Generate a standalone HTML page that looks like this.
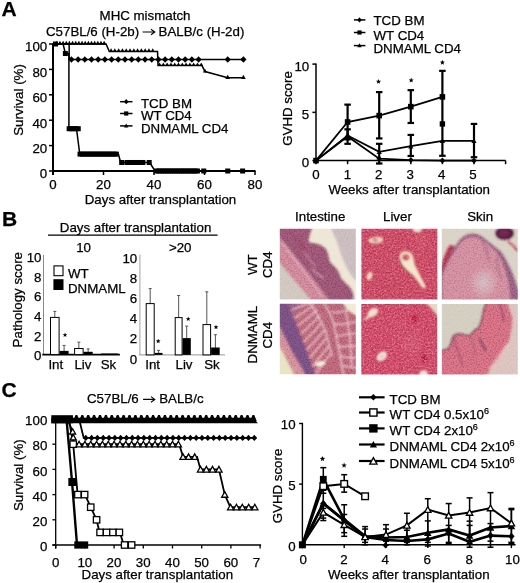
<!DOCTYPE html>
<html><head><meta charset="utf-8"><style>
html,body{margin:0;padding:0;background:#fff;overflow:hidden;}
svg{display:block;will-change:transform;}
text{font-family:"Liberation Sans", sans-serif;stroke:#000;stroke-width:0.25px;}
</style></head><body>
<svg width="520" height="583" viewBox="0 0 520 583">
<rect width="520" height="583" fill="#fff"/>
<text x="1.60" y="16.20" font-size="21" font-weight="bold" fill="#000">A</text>
<text x="145.00" y="20.00" font-size="13.3" text-anchor="middle" fill="#000">MHC mismatch</text>
<text x="46.00" y="36.00" font-size="13.3" fill="#000">C57BL/6 (H-2b)</text>
<path d="M142.6 32H154.6M151 29.2L154.8 32L151 34.8" fill="none" stroke="#000" stroke-width="1.1"/>
<text x="158.60" y="36.00" font-size="13.3" fill="#000">BALB/c (H-2d)</text>
<line x1="53.00" y1="43.20" x2="53.00" y2="175.00" stroke="#000" stroke-width="2" stroke-linecap="butt"/>
<line x1="52.00" y1="171.00" x2="255.50" y2="171.00" stroke="#000" stroke-width="2" stroke-linecap="butt"/>
<line x1="49.00" y1="171.00" x2="53.00" y2="171.00" stroke="#000" stroke-width="1.5" stroke-linecap="butt"/>
<text x="47.20" y="178.30" font-size="13.3" text-anchor="end" fill="#000">0</text>
<line x1="49.00" y1="145.60" x2="53.00" y2="145.60" stroke="#000" stroke-width="1.5" stroke-linecap="butt"/>
<text x="47.20" y="152.90" font-size="13.3" text-anchor="end" fill="#000">20</text>
<line x1="49.00" y1="120.20" x2="53.00" y2="120.20" stroke="#000" stroke-width="1.5" stroke-linecap="butt"/>
<text x="47.20" y="127.50" font-size="13.3" text-anchor="end" fill="#000">40</text>
<line x1="49.00" y1="94.80" x2="53.00" y2="94.80" stroke="#000" stroke-width="1.5" stroke-linecap="butt"/>
<text x="47.20" y="102.10" font-size="13.3" text-anchor="end" fill="#000">60</text>
<line x1="49.00" y1="69.40" x2="53.00" y2="69.40" stroke="#000" stroke-width="1.5" stroke-linecap="butt"/>
<text x="47.20" y="76.70" font-size="13.3" text-anchor="end" fill="#000">80</text>
<line x1="49.00" y1="44.00" x2="53.00" y2="44.00" stroke="#000" stroke-width="1.5" stroke-linecap="butt"/>
<text x="47.20" y="51.30" font-size="13.3" text-anchor="end" fill="#000">100</text>
<line x1="53.00" y1="171.00" x2="53.00" y2="175.00" stroke="#000" stroke-width="1.5" stroke-linecap="butt"/>
<text x="53.00" y="189.30" font-size="13.3" text-anchor="middle" fill="#000">0</text>
<line x1="103.50" y1="171.00" x2="103.50" y2="175.00" stroke="#000" stroke-width="1.5" stroke-linecap="butt"/>
<text x="103.50" y="189.30" font-size="13.3" text-anchor="middle" fill="#000">20</text>
<line x1="154.00" y1="171.00" x2="154.00" y2="175.00" stroke="#000" stroke-width="1.5" stroke-linecap="butt"/>
<text x="154.00" y="189.30" font-size="13.3" text-anchor="middle" fill="#000">40</text>
<line x1="204.50" y1="171.00" x2="204.50" y2="175.00" stroke="#000" stroke-width="1.5" stroke-linecap="butt"/>
<text x="204.50" y="189.30" font-size="13.3" text-anchor="middle" fill="#000">60</text>
<line x1="255.00" y1="171.00" x2="255.00" y2="175.00" stroke="#000" stroke-width="1.5" stroke-linecap="butt"/>
<text x="255.00" y="189.30" font-size="13.3" text-anchor="middle" fill="#000">80</text>
<text x="23.10" y="100.00" font-size="13.3" text-anchor="middle" transform="rotate(-90 23.1 100)" fill="#000">Survival (%)</text>
<text x="160.50" y="203.80" font-size="13.3" text-anchor="middle" fill="#000">Days after transplantation</text>
<polyline points="53.00,44.00 106.03,44.00 109.31,51.62 157.53,51.62 158.04,65.59 201.97,65.59 205.00,71.56 227.73,77.78 243.39,77.78" fill="none" stroke="#000" stroke-width="1.5" stroke-linejoin="miter"/>
<path d="M54.59 44.67L56.79 40.71L58.99 44.67Z" fill="#000"/>
<path d="M57.74 44.67L59.94 40.71L62.14 44.67Z" fill="#000"/>
<path d="M60.90 44.67L63.10 40.71L65.30 44.67Z" fill="#000"/>
<path d="M64.06 44.67L66.26 40.71L68.46 44.67Z" fill="#000"/>
<path d="M67.21 44.67L69.41 40.71L71.61 44.67Z" fill="#000"/>
<path d="M70.37 44.67L72.57 40.71L74.77 44.67Z" fill="#000"/>
<path d="M73.52 44.67L75.72 40.71L77.92 44.67Z" fill="#000"/>
<path d="M76.68 44.67L78.88 40.71L81.08 44.67Z" fill="#000"/>
<path d="M79.84 44.67L82.04 40.71L84.24 44.67Z" fill="#000"/>
<path d="M82.99 44.67L85.19 40.71L87.39 44.67Z" fill="#000"/>
<path d="M86.15 44.67L88.35 40.71L90.55 44.67Z" fill="#000"/>
<path d="M89.31 44.67L91.51 40.71L93.71 44.67Z" fill="#000"/>
<path d="M92.46 44.67L94.66 40.71L96.86 44.67Z" fill="#000"/>
<path d="M95.62 44.67L97.82 40.71L100.02 44.67Z" fill="#000"/>
<path d="M98.77 44.67L100.97 40.71L103.17 44.67Z" fill="#000"/>
<path d="M101.93 44.67L104.13 40.71L106.33 44.67Z" fill="#000"/>
<path d="M108.97 52.11L111.07 48.33L113.17 52.11Z" fill="#000"/>
<path d="M112.76 52.11L114.86 48.33L116.96 52.11Z" fill="#000"/>
<path d="M116.55 52.11L118.65 48.33L120.75 52.11Z" fill="#000"/>
<path d="M120.34 52.11L122.44 48.33L124.54 52.11Z" fill="#000"/>
<path d="M124.12 52.11L126.22 48.33L128.32 52.11Z" fill="#000"/>
<path d="M127.91 52.11L130.01 48.33L132.11 52.11Z" fill="#000"/>
<path d="M131.70 52.11L133.80 48.33L135.90 52.11Z" fill="#000"/>
<path d="M135.49 52.11L137.59 48.33L139.69 52.11Z" fill="#000"/>
<path d="M139.28 52.11L141.38 48.33L143.47 52.11Z" fill="#000"/>
<path d="M143.06 52.11L145.16 48.33L147.26 52.11Z" fill="#000"/>
<path d="M146.85 52.11L148.95 48.33L151.05 52.11Z" fill="#000"/>
<path d="M150.64 52.11L152.74 48.33L154.84 52.11Z" fill="#000"/>
<path d="M157.56 66.09L159.56 62.49L161.56 66.09Z" fill="#000"/>
<path d="M161.34 66.09L163.34 62.49L165.34 66.09Z" fill="#000"/>
<path d="M165.13 66.09L167.13 62.49L169.13 66.09Z" fill="#000"/>
<path d="M168.92 66.09L170.92 62.49L172.92 66.09Z" fill="#000"/>
<path d="M172.70 66.09L174.70 62.49L176.70 66.09Z" fill="#000"/>
<path d="M176.49 66.09L178.49 62.49L180.49 66.09Z" fill="#000"/>
<path d="M180.28 66.09L182.28 62.49L184.28 66.09Z" fill="#000"/>
<path d="M184.07 66.09L186.07 62.49L188.07 66.09Z" fill="#000"/>
<path d="M187.85 66.09L189.85 62.49L191.85 66.09Z" fill="#000"/>
<path d="M191.64 66.09L193.64 62.49L195.64 66.09Z" fill="#000"/>
<path d="M195.43 66.09L197.43 62.49L199.43 66.09Z" fill="#000"/>
<path d="M199.22 66.09L201.22 62.49L203.22 66.09Z" fill="#000"/>
<path d="M202.91 72.54L205.00 68.76L207.10 72.54Z" fill="#000"/>
<path d="M225.33 79.02L227.73 74.70L230.13 79.02Z" fill="#000"/>
<path d="M240.99 79.02L243.39 74.70L245.79 79.02Z" fill="#000"/>
<polyline points="53.00,44.00 69.16,44.00 69.16,59.49 243.39,59.49" fill="none" stroke="#000" stroke-width="1.5" stroke-linejoin="miter"/>
<path d="M68.33 59.49L71.43 56.19L74.53 59.49L71.43 62.79Z" fill="#000"/>
<path d="M75.02 59.49L78.12 56.19L81.22 59.49L78.12 62.79Z" fill="#000"/>
<path d="M81.72 59.49L84.81 56.19L87.91 59.49L84.81 62.79Z" fill="#000"/>
<path d="M88.41 59.49L91.51 56.19L94.61 59.49L91.51 62.79Z" fill="#000"/>
<path d="M95.10 59.49L98.20 56.19L101.30 59.49L98.20 62.79Z" fill="#000"/>
<path d="M101.79 59.49L104.89 56.19L107.99 59.49L104.89 62.79Z" fill="#000"/>
<path d="M108.48 59.49L111.58 56.19L114.68 59.49L111.58 62.79Z" fill="#000"/>
<path d="M115.17 59.49L118.27 56.19L121.37 59.49L118.27 62.79Z" fill="#000"/>
<path d="M121.86 59.49L124.96 56.19L128.06 59.49L124.96 62.79Z" fill="#000"/>
<path d="M128.55 59.49L131.65 56.19L134.75 59.49L131.65 62.79Z" fill="#000"/>
<path d="M135.24 59.49L138.34 56.19L141.44 59.49L138.34 62.79Z" fill="#000"/>
<path d="M141.94 59.49L145.04 56.19L148.14 59.49L145.04 62.79Z" fill="#000"/>
<path d="M148.63 59.49L151.73 56.19L154.83 59.49L151.73 62.79Z" fill="#000"/>
<path d="M155.32 59.49L158.42 56.19L161.52 59.49L158.42 62.79Z" fill="#000"/>
<path d="M162.01 59.49L165.11 56.19L168.21 59.49L165.11 62.79Z" fill="#000"/>
<path d="M168.70 59.49L171.80 56.19L174.90 59.49L171.80 62.79Z" fill="#000"/>
<path d="M175.39 59.49L178.49 56.19L181.59 59.49L178.49 62.79Z" fill="#000"/>
<path d="M182.08 59.49L185.18 56.19L188.28 59.49L185.18 62.79Z" fill="#000"/>
<path d="M188.77 59.49L191.87 56.19L194.97 59.49L191.87 62.79Z" fill="#000"/>
<path d="M195.47 59.49L198.57 56.19L201.67 59.49L198.57 62.79Z" fill="#000"/>
<path d="M224.63 59.49L227.73 56.19L230.83 59.49L227.73 62.79Z" fill="#000"/>
<path d="M240.29 59.49L243.39 56.19L246.49 59.49L243.39 62.79Z" fill="#000"/>
<polyline points="53.00,44.00 63.10,44.00 65.37,53.52 68.91,53.52 68.91,128.71 76.48,128.71 79.77,154.11 118.40,154.11 120.67,162.49 149.71,162.49 155.01,171.00 242.63,171.00" fill="none" stroke="#000" stroke-width="1.5" stroke-linejoin="miter"/>
<rect x="53.02" y="41.50" width="5.00" height="5.00" fill="#000"/>
<rect x="62.87" y="51.02" width="5.00" height="5.00" fill="#000"/>
<rect x="66.66" y="126.21" width="5.00" height="5.00" fill="#000"/>
<rect x="68.93" y="126.21" width="5.00" height="5.00" fill="#000"/>
<rect x="71.20" y="126.21" width="5.00" height="5.00" fill="#000"/>
<rect x="73.48" y="126.21" width="5.00" height="5.00" fill="#000"/>
<rect x="75.75" y="126.21" width="5.00" height="5.00" fill="#000"/>
<rect x="77.52" y="151.61" width="5.00" height="5.00" fill="#000"/>
<rect x="79.79" y="151.61" width="5.00" height="5.00" fill="#000"/>
<rect x="82.06" y="151.61" width="5.00" height="5.00" fill="#000"/>
<rect x="84.34" y="151.61" width="5.00" height="5.00" fill="#000"/>
<rect x="86.61" y="151.61" width="5.00" height="5.00" fill="#000"/>
<rect x="88.88" y="151.61" width="5.00" height="5.00" fill="#000"/>
<rect x="91.15" y="151.61" width="5.00" height="5.00" fill="#000"/>
<rect x="93.42" y="151.61" width="5.00" height="5.00" fill="#000"/>
<rect x="95.70" y="151.61" width="5.00" height="5.00" fill="#000"/>
<rect x="97.97" y="151.61" width="5.00" height="5.00" fill="#000"/>
<rect x="100.24" y="151.61" width="5.00" height="5.00" fill="#000"/>
<rect x="102.52" y="151.61" width="5.00" height="5.00" fill="#000"/>
<rect x="104.79" y="151.61" width="5.00" height="5.00" fill="#000"/>
<rect x="107.06" y="151.61" width="5.00" height="5.00" fill="#000"/>
<rect x="109.33" y="151.61" width="5.00" height="5.00" fill="#000"/>
<rect x="111.61" y="151.61" width="5.00" height="5.00" fill="#000"/>
<rect x="113.88" y="151.61" width="5.00" height="5.00" fill="#000"/>
<rect x="119.18" y="159.99" width="5.00" height="5.00" fill="#000"/>
<rect x="124.48" y="159.99" width="5.00" height="5.00" fill="#000"/>
<rect x="126.75" y="159.99" width="5.00" height="5.00" fill="#000"/>
<rect x="129.03" y="159.99" width="5.00" height="5.00" fill="#000"/>
<rect x="131.30" y="159.99" width="5.00" height="5.00" fill="#000"/>
<rect x="133.57" y="159.99" width="5.00" height="5.00" fill="#000"/>
<rect x="135.84" y="159.99" width="5.00" height="5.00" fill="#000"/>
<rect x="138.12" y="159.99" width="5.00" height="5.00" fill="#000"/>
<rect x="140.39" y="159.99" width="5.00" height="5.00" fill="#000"/>
<rect x="146.70" y="159.99" width="5.00" height="5.00" fill="#000"/>
<rect x="154.02" y="168.50" width="5.00" height="5.00" fill="#000"/>
<rect x="156.30" y="168.50" width="5.00" height="5.00" fill="#000"/>
<rect x="158.57" y="168.50" width="5.00" height="5.00" fill="#000"/>
<rect x="160.84" y="168.50" width="5.00" height="5.00" fill="#000"/>
<rect x="163.11" y="168.50" width="5.00" height="5.00" fill="#000"/>
<rect x="165.39" y="168.50" width="5.00" height="5.00" fill="#000"/>
<rect x="167.66" y="168.50" width="5.00" height="5.00" fill="#000"/>
<rect x="169.93" y="168.50" width="5.00" height="5.00" fill="#000"/>
<rect x="172.20" y="168.50" width="5.00" height="5.00" fill="#000"/>
<rect x="174.48" y="168.50" width="5.00" height="5.00" fill="#000"/>
<rect x="176.75" y="168.50" width="5.00" height="5.00" fill="#000"/>
<rect x="179.02" y="168.50" width="5.00" height="5.00" fill="#000"/>
<rect x="181.29" y="168.50" width="5.00" height="5.00" fill="#000"/>
<rect x="183.57" y="168.50" width="5.00" height="5.00" fill="#000"/>
<rect x="185.84" y="168.50" width="5.00" height="5.00" fill="#000"/>
<rect x="188.11" y="168.50" width="5.00" height="5.00" fill="#000"/>
<rect x="190.38" y="168.50" width="5.00" height="5.00" fill="#000"/>
<rect x="192.66" y="168.50" width="5.00" height="5.00" fill="#000"/>
<rect x="194.93" y="168.50" width="5.00" height="5.00" fill="#000"/>
<rect x="201.24" y="168.50" width="5.00" height="5.00" fill="#000"/>
<rect x="225.23" y="168.50" width="5.00" height="5.00" fill="#000"/>
<rect x="240.13" y="168.50" width="5.00" height="5.00" fill="#000"/>
<line x1="120.10" y1="101.70" x2="132.50" y2="101.70" stroke="#000" stroke-width="1.5" stroke-linecap="butt"/>
<path d="M123.90 101.70L126.20 99.10L128.50 101.70L126.20 104.30Z" fill="#000"/>
<text x="141.00" y="107.50" font-size="13.3" fill="#000">TCD BM</text>
<line x1="120.10" y1="113.50" x2="132.50" y2="113.50" stroke="#000" stroke-width="1.5" stroke-linecap="butt"/>
<rect x="124.10" y="111.40" width="4.20" height="4.20" fill="#000"/>
<text x="141.00" y="120.40" font-size="13.3" fill="#000">WT CD4</text>
<line x1="120.10" y1="125.90" x2="132.50" y2="125.90" stroke="#000" stroke-width="1.5" stroke-linecap="butt"/>
<path d="M124.00 127.47L126.20 123.51L128.40 127.47Z" fill="#000"/>
<text x="141.00" y="133.30" font-size="13.3" fill="#000">DNMAML CD4</text>
<line x1="316.00" y1="63.40" x2="316.00" y2="160.60" stroke="#000" stroke-width="1.5" stroke-linecap="butt"/>
<line x1="316.00" y1="160.60" x2="505.60" y2="160.60" stroke="#000" stroke-width="1.5" stroke-linecap="butt"/>
<line x1="505.60" y1="160.60" x2="505.60" y2="164.20" stroke="#000" stroke-width="1.5" stroke-linecap="butt"/>
<line x1="312.40" y1="160.60" x2="316.00" y2="160.60" stroke="#000" stroke-width="1.5" stroke-linecap="butt"/>
<text x="309.20" y="167.40" font-size="13.3" text-anchor="end" fill="#000">0</text>
<line x1="312.40" y1="112.35" x2="316.00" y2="112.35" stroke="#000" stroke-width="1.5" stroke-linecap="butt"/>
<text x="309.20" y="119.15" font-size="13.3" text-anchor="end" fill="#000">5</text>
<line x1="312.40" y1="64.10" x2="316.00" y2="64.10" stroke="#000" stroke-width="1.5" stroke-linecap="butt"/>
<text x="309.20" y="70.90" font-size="13.3" text-anchor="end" fill="#000">10</text>
<line x1="316.00" y1="160.60" x2="316.00" y2="164.20" stroke="#000" stroke-width="1.5" stroke-linecap="butt"/>
<text x="316.00" y="178.60" font-size="13.3" text-anchor="middle" fill="#000">0</text>
<line x1="347.60" y1="160.60" x2="347.60" y2="164.20" stroke="#000" stroke-width="1.5" stroke-linecap="butt"/>
<text x="347.40" y="178.60" font-size="13.3" text-anchor="middle" fill="#000">1</text>
<line x1="379.20" y1="160.60" x2="379.20" y2="164.20" stroke="#000" stroke-width="1.5" stroke-linecap="butt"/>
<text x="378.80" y="178.60" font-size="13.3" text-anchor="middle" fill="#000">2</text>
<line x1="410.80" y1="160.60" x2="410.80" y2="164.20" stroke="#000" stroke-width="1.5" stroke-linecap="butt"/>
<text x="410.20" y="178.60" font-size="13.3" text-anchor="middle" fill="#000">3</text>
<line x1="442.40" y1="160.60" x2="442.40" y2="164.20" stroke="#000" stroke-width="1.5" stroke-linecap="butt"/>
<text x="441.60" y="178.60" font-size="13.3" text-anchor="middle" fill="#000">4</text>
<line x1="474.00" y1="160.60" x2="474.00" y2="164.20" stroke="#000" stroke-width="1.5" stroke-linecap="butt"/>
<text x="473.00" y="178.60" font-size="13.3" text-anchor="middle" fill="#000">5</text>
<text x="292.00" y="108.50" font-size="13.3" text-anchor="middle" transform="rotate(-90 292 108.5)" fill="#000">GVHD score</text>
<text x="409.20" y="193.80" font-size="13.3" text-anchor="middle" fill="#000">Weeks after transplantation</text>
<line x1="347.60" y1="104.63" x2="347.60" y2="139.37" stroke="#000" stroke-width="2.2" stroke-linecap="butt"/>
<line x1="344.35" y1="104.63" x2="350.85" y2="104.63" stroke="#000" stroke-width="2.2" stroke-linecap="butt"/>
<line x1="344.35" y1="139.37" x2="350.85" y2="139.37" stroke="#000" stroke-width="2.2" stroke-linecap="butt"/>
<line x1="347.60" y1="129.33" x2="347.60" y2="143.81" stroke="#000" stroke-width="2.2" stroke-linecap="butt"/>
<line x1="344.35" y1="129.33" x2="350.85" y2="129.33" stroke="#000" stroke-width="2.2" stroke-linecap="butt"/>
<line x1="344.35" y1="143.81" x2="350.85" y2="143.81" stroke="#000" stroke-width="2.2" stroke-linecap="butt"/>
<line x1="379.20" y1="92.08" x2="379.20" y2="138.41" stroke="#000" stroke-width="2.2" stroke-linecap="butt"/>
<line x1="375.95" y1="92.08" x2="382.45" y2="92.08" stroke="#000" stroke-width="2.2" stroke-linecap="butt"/>
<line x1="375.95" y1="138.41" x2="382.45" y2="138.41" stroke="#000" stroke-width="2.2" stroke-linecap="butt"/>
<line x1="379.20" y1="143.81" x2="379.20" y2="163.50" stroke="#000" stroke-width="2.2" stroke-linecap="butt"/>
<line x1="375.95" y1="143.81" x2="382.45" y2="143.81" stroke="#000" stroke-width="2.2" stroke-linecap="butt"/>
<line x1="375.95" y1="163.50" x2="382.45" y2="163.50" stroke="#000" stroke-width="2.2" stroke-linecap="butt"/>
<line x1="410.80" y1="90.15" x2="410.80" y2="122.97" stroke="#000" stroke-width="2.2" stroke-linecap="butt"/>
<line x1="407.55" y1="90.15" x2="414.05" y2="90.15" stroke="#000" stroke-width="2.2" stroke-linecap="butt"/>
<line x1="407.55" y1="122.97" x2="414.05" y2="122.97" stroke="#000" stroke-width="2.2" stroke-linecap="butt"/>
<line x1="410.80" y1="134.93" x2="410.80" y2="155.97" stroke="#000" stroke-width="2.2" stroke-linecap="butt"/>
<line x1="407.55" y1="134.93" x2="414.05" y2="134.93" stroke="#000" stroke-width="2.2" stroke-linecap="butt"/>
<line x1="407.55" y1="155.97" x2="414.05" y2="155.97" stroke="#000" stroke-width="2.2" stroke-linecap="butt"/>
<line x1="442.40" y1="70.85" x2="442.40" y2="155.78" stroke="#000" stroke-width="2.2" stroke-linecap="butt"/>
<line x1="439.15" y1="70.85" x2="445.65" y2="70.85" stroke="#000" stroke-width="2.2" stroke-linecap="butt"/>
<line x1="439.15" y1="155.78" x2="445.65" y2="155.78" stroke="#000" stroke-width="2.2" stroke-linecap="butt"/>
<line x1="474.00" y1="123.93" x2="474.00" y2="157.22" stroke="#000" stroke-width="2.2" stroke-linecap="butt"/>
<line x1="470.75" y1="123.93" x2="477.25" y2="123.93" stroke="#000" stroke-width="2.2" stroke-linecap="butt"/>
<line x1="470.75" y1="157.22" x2="477.25" y2="157.22" stroke="#000" stroke-width="2.2" stroke-linecap="butt"/>
<polyline points="316.00,160.60 347.60,136.47 379.20,158.67 410.80,160.12 442.40,160.60 474.00,160.60" fill="none" stroke="#000" stroke-width="1.8" stroke-linejoin="miter"/>
<polyline points="316.00,160.60 347.60,122.00 379.20,115.63 410.80,106.66 442.40,96.91" fill="none" stroke="#000" stroke-width="1.8" stroke-linejoin="miter"/>
<polyline points="316.00,160.60 347.60,135.51 379.20,151.91 410.80,146.22 442.40,140.91 474.00,140.91" fill="none" stroke="#000" stroke-width="1.8" stroke-linejoin="miter"/>
<path d="M313.20 160.60L316.00 157.40L318.80 160.60L316.00 163.80Z" fill="#000"/>
<path d="M344.80 136.47L347.60 133.28L350.40 136.47L347.60 139.67Z" fill="#000"/>
<path d="M376.40 158.67L379.20 155.47L382.00 158.67L379.20 161.87Z" fill="#000"/>
<path d="M408.00 160.12L410.80 156.92L413.60 160.12L410.80 163.32Z" fill="#000"/>
<path d="M439.60 160.60L442.40 157.40L445.20 160.60L442.40 163.80Z" fill="#000"/>
<path d="M471.20 160.60L474.00 157.40L476.80 160.60L474.00 163.80Z" fill="#000"/>
<rect x="313.20" y="157.80" width="5.60" height="5.60" fill="#000"/>
<rect x="344.80" y="119.20" width="5.60" height="5.60" fill="#000"/>
<rect x="376.40" y="112.83" width="5.60" height="5.60" fill="#000"/>
<rect x="408.00" y="103.86" width="5.60" height="5.60" fill="#000"/>
<rect x="439.60" y="94.11" width="5.60" height="5.60" fill="#000"/>
<rect x="439.70" y="121.23" width="5.40" height="5.40" fill="#000"/>
<path d="M313.40 162.81L316.00 158.13L318.60 162.81Z" fill="#000"/>
<path d="M345.00 137.72L347.60 133.04L350.20 137.72Z" fill="#000"/>
<path d="M376.60 154.12L379.20 149.44L381.80 154.12Z" fill="#000"/>
<path d="M408.20 148.43L410.80 143.75L413.40 148.43Z" fill="#000"/>
<path d="M439.80 143.12L442.40 138.44L445.00 143.12Z" fill="#000"/>
<path d="M471.40 143.12L474.00 138.44L476.60 143.12Z" fill="#000"/>
<polygon points="378.50,78.90 379.17,80.68 381.07,80.77 379.58,81.95 380.09,83.78 378.50,82.73 376.91,83.78 377.42,81.95 375.93,80.77 377.83,80.68" fill="#000"/>
<polygon points="411.20,77.60 411.87,79.38 413.77,79.47 412.28,80.65 412.79,82.48 411.20,81.43 409.61,82.48 410.12,80.65 408.63,79.47 410.53,79.38" fill="#000"/>
<polygon points="442.40,59.80 443.07,61.58 444.97,61.67 443.48,62.85 443.99,64.68 442.40,63.63 440.81,64.68 441.32,62.85 439.83,61.67 441.73,61.58" fill="#000"/>
<line x1="353.90" y1="19.90" x2="365.40" y2="19.90" stroke="#000" stroke-width="1.5" stroke-linecap="butt"/>
<path d="M357.20 19.90L359.50 17.30L361.80 19.90L359.50 22.50Z" fill="#000"/>
<text x="373.50" y="25.20" font-size="13.3" fill="#000">TCD BM</text>
<line x1="353.90" y1="32.50" x2="365.40" y2="32.50" stroke="#000" stroke-width="1.5" stroke-linecap="butt"/>
<rect x="357.40" y="30.40" width="4.20" height="4.20" fill="#000"/>
<text x="373.50" y="39.60" font-size="13.3" fill="#000">WT CD4</text>
<line x1="353.90" y1="45.60" x2="365.40" y2="45.60" stroke="#000" stroke-width="1.5" stroke-linecap="butt"/>
<path d="M357.30 47.17L359.50 43.21L361.70 47.17Z" fill="#000"/>
<text x="373.50" y="52.80" font-size="13.3" fill="#000">DNMAML CD4</text>
<text x="2.00" y="225.80" font-size="21" font-weight="bold" fill="#000">B</text>
<text x="135.60" y="231.50" font-size="13.3" text-anchor="middle" fill="#000">Days after transplantation</text>
<line x1="48.00" y1="235.20" x2="217.60" y2="235.20" stroke="#000" stroke-width="1.2" stroke-linecap="butt"/>
<text x="83.60" y="251.60" font-size="13.3" text-anchor="middle" fill="#000">10</text>
<text x="180.20" y="251.60" font-size="13.3" text-anchor="middle" fill="#000">&gt;20</text>
<line x1="43.50" y1="254.90" x2="43.50" y2="354.60" stroke="#8a8a8a" stroke-width="1.0" stroke-linecap="butt"/>
<line x1="42.30" y1="354.60" x2="119.90" y2="354.60" stroke="#000" stroke-width="1.8" stroke-linecap="butt"/>
<text x="41.50" y="360.40" font-size="13.3" text-anchor="end" fill="#000">0</text>
<text x="41.50" y="340.68" font-size="13.3" text-anchor="end" fill="#000">2</text>
<text x="41.50" y="320.96" font-size="13.3" text-anchor="end" fill="#000">4</text>
<text x="41.50" y="301.24" font-size="13.3" text-anchor="end" fill="#000">6</text>
<text x="41.50" y="281.52" font-size="13.3" text-anchor="end" fill="#000">8</text>
<text x="41.50" y="261.80" font-size="13.3" text-anchor="end" fill="#000">10</text>
<text x="22.30" y="299.70" font-size="13.3" text-anchor="middle" transform="rotate(-90 22.3 299.7)" fill="#000">Pathology score</text>
<line x1="54.80" y1="317.40" x2="54.80" y2="311.40" stroke="#555" stroke-width="1.0" stroke-linecap="butt"/>
<line x1="53.30" y1="311.40" x2="56.30" y2="311.40" stroke="#555" stroke-width="1.0" stroke-linecap="butt"/>
<rect x="50.50" y="317.40" width="8.60" height="37.20" fill="#fff" stroke="#000" stroke-width="1"/>
<line x1="64.10" y1="351.40" x2="64.10" y2="345.40" stroke="#555" stroke-width="1.0" stroke-linecap="butt"/>
<line x1="62.60" y1="345.40" x2="65.60" y2="345.40" stroke="#555" stroke-width="1.0" stroke-linecap="butt"/>
<rect x="59.60" y="350.90" width="9.00" height="3.70" fill="#000"/>
<line x1="78.85" y1="348.50" x2="78.85" y2="342.20" stroke="#555" stroke-width="1.0" stroke-linecap="butt"/>
<line x1="77.35" y1="342.20" x2="80.35" y2="342.20" stroke="#555" stroke-width="1.0" stroke-linecap="butt"/>
<rect x="74.60" y="348.50" width="8.50" height="6.10" fill="#fff" stroke="#000" stroke-width="1"/>
<line x1="88.15" y1="352.30" x2="88.15" y2="348.90" stroke="#555" stroke-width="1.0" stroke-linecap="butt"/>
<line x1="86.65" y1="348.90" x2="89.65" y2="348.90" stroke="#555" stroke-width="1.0" stroke-linecap="butt"/>
<rect x="83.60" y="351.80" width="9.10" height="2.80" fill="#000"/>
<line x1="101.00" y1="354.10" x2="118.00" y2="354.10" stroke="#000" stroke-width="1.2" stroke-linecap="butt"/>
<polygon points="65.00,332.50 65.62,334.15 67.38,334.23 66.00,335.32 66.47,337.02 65.00,336.05 63.53,337.02 64.00,335.32 62.62,334.23 64.38,334.15" fill="#000"/>
<text x="55.80" y="369.10" font-size="13.3" text-anchor="middle" fill="#000">Int</text>
<text x="82.90" y="369.10" font-size="13.3" text-anchor="middle" fill="#000">Liv</text>
<text x="108.50" y="369.10" font-size="13.3" text-anchor="middle" fill="#000">Sk</text>
<rect x="54" y="265.9" width="9" height="9.8" fill="#fff" stroke="#000" stroke-width="1.1"/>
<rect x="53.4" y="279.2" width="10.1" height="10.8" fill="#000"/>
<text x="68.00" y="277.60" font-size="13.3" fill="#000">WT</text>
<text x="68.00" y="292.50" font-size="13.3" fill="#000">DNMAML</text>
<line x1="139.90" y1="254.40" x2="139.90" y2="354.90" stroke="#aaa" stroke-width="1.1" stroke-linecap="butt"/>
<line x1="139.00" y1="354.90" x2="225.00" y2="354.90" stroke="#aaa" stroke-width="1.3" stroke-linecap="butt"/>
<text x="137.20" y="363.60" font-size="13.3" text-anchor="end" fill="#000">0</text>
<text x="137.20" y="343.40" font-size="13.3" text-anchor="end" fill="#000">2</text>
<text x="137.20" y="323.20" font-size="13.3" text-anchor="end" fill="#000">4</text>
<text x="137.20" y="303.00" font-size="13.3" text-anchor="end" fill="#000">6</text>
<text x="137.20" y="282.80" font-size="13.3" text-anchor="end" fill="#000">8</text>
<text x="137.20" y="262.60" font-size="13.3" text-anchor="end" fill="#000">10</text>
<line x1="150.20" y1="303.60" x2="150.20" y2="288.60" stroke="#555" stroke-width="1.0" stroke-linecap="butt"/>
<line x1="148.70" y1="288.60" x2="151.70" y2="288.60" stroke="#555" stroke-width="1.0" stroke-linecap="butt"/>
<rect x="146.20" y="303.60" width="8.00" height="51.30" fill="#fff" stroke="#000" stroke-width="1"/>
<line x1="158.60" y1="353.40" x2="158.60" y2="350.40" stroke="#555" stroke-width="1.0" stroke-linecap="butt"/>
<line x1="157.10" y1="350.40" x2="160.10" y2="350.40" stroke="#555" stroke-width="1.0" stroke-linecap="butt"/>
<rect x="154.70" y="352.90" width="7.80" height="2.00" fill="#000"/>
<line x1="178.65" y1="317.60" x2="178.65" y2="295.50" stroke="#555" stroke-width="1.0" stroke-linecap="butt"/>
<line x1="177.15" y1="295.50" x2="180.15" y2="295.50" stroke="#555" stroke-width="1.0" stroke-linecap="butt"/>
<rect x="175.20" y="317.60" width="6.90" height="37.30" fill="#fff" stroke="#000" stroke-width="1"/>
<line x1="186.70" y1="338.60" x2="186.70" y2="326.10" stroke="#555" stroke-width="1.0" stroke-linecap="butt"/>
<line x1="185.20" y1="326.10" x2="188.20" y2="326.10" stroke="#555" stroke-width="1.0" stroke-linecap="butt"/>
<rect x="182.60" y="338.10" width="8.20" height="16.80" fill="#000"/>
<line x1="206.80" y1="324.60" x2="206.80" y2="291.80" stroke="#555" stroke-width="1.0" stroke-linecap="butt"/>
<line x1="205.30" y1="291.80" x2="208.30" y2="291.80" stroke="#555" stroke-width="1.0" stroke-linecap="butt"/>
<rect x="203.00" y="324.60" width="7.60" height="30.30" fill="#fff" stroke="#000" stroke-width="1"/>
<line x1="215.40" y1="348.00" x2="215.40" y2="334.70" stroke="#555" stroke-width="1.0" stroke-linecap="butt"/>
<line x1="213.90" y1="334.70" x2="216.90" y2="334.70" stroke="#555" stroke-width="1.0" stroke-linecap="butt"/>
<rect x="211.10" y="347.50" width="8.60" height="7.40" fill="#000"/>
<polygon points="158.20,338.70 158.82,340.35 160.58,340.43 159.20,341.52 159.67,343.22 158.20,342.25 156.73,343.22 157.20,341.52 155.82,340.43 157.58,340.35" fill="#000"/>
<polygon points="188.20,316.50 188.82,318.15 190.58,318.23 189.20,319.32 189.67,321.02 188.20,320.05 186.73,321.02 187.20,319.32 185.82,318.23 187.58,318.15" fill="#000"/>
<polygon points="216.00,324.70 216.62,326.35 218.38,326.43 217.00,327.52 217.47,329.22 216.00,328.25 214.53,329.22 215.00,327.52 213.62,326.43 215.38,326.35" fill="#000"/>
<text x="152.60" y="368.80" font-size="13.3" text-anchor="middle" fill="#000">Int</text>
<text x="184.00" y="368.80" font-size="13.3" text-anchor="middle" fill="#000">Liv</text>
<text x="211.90" y="368.80" font-size="13.3" text-anchor="middle" fill="#000">Sk</text>
<text x="320.20" y="221.30" font-size="13.3" text-anchor="middle" fill="#000">Intestine</text>
<text x="397.40" y="221.30" font-size="13.3" text-anchor="middle" fill="#000">Liver</text>
<text x="480.20" y="221.30" font-size="13.3" text-anchor="middle" fill="#000">Skin</text>
<text x="257.20" y="264.70" font-size="13.3" text-anchor="middle" transform="rotate(-90 257.2 264.7)" fill="#000">WT</text>
<text x="272.40" y="264.70" font-size="13.3" text-anchor="middle" transform="rotate(-90 272.4 264.7)" fill="#000">CD4</text>
<text x="256.90" y="334.60" font-size="13.3" text-anchor="middle" transform="rotate(-90 256.9 334.6)" fill="#000">DNMAML</text>
<text x="272.30" y="335.20" font-size="13.3" text-anchor="middle" transform="rotate(-90 272.3 335.2)" fill="#000">CD4</text>
<defs>
<clipPath id="cp1"><rect x="0" y="0" width="76" height="70.4"/></clipPath>
<clipPath id="cp0"><rect x="0" y="0" width="76" height="70.6"/></clipPath>
<clipPath id="cp2"><rect x="0" y="0" width="76" height="70.5"/></clipPath>
<filter id="bl" x="-5%" y="-5%" width="110%" height="110%"><feGaussianBlur stdDeviation="0.8"/></filter>
<filter id="tex" x="0" y="0" width="100%" height="100%" color-interpolation-filters="sRGB">
 <feTurbulence type="fractalNoise" baseFrequency="0.62" numOctaves="2" seed="5" result="n"/>
 <feColorMatrix in="n" type="matrix" values="0 0 0 0 0  0 0 0 0 0  0 0 0 0 0  2.6 0 0 0 -1.05" result="na"/>
 <feColorMatrix in="SourceGraphic" type="matrix" values="0 0 0 0 0.45  0 0 0 0 0.06  0 0 0 0 0.18  0 -1.6 0 0 1.42" result="m"/>
 <feComposite in="m" in2="na" operator="in" result="dots"/>
 <feTurbulence type="fractalNoise" baseFrequency="0.55" numOctaves="2" seed="11" result="n2"/>
 <feColorMatrix in="n2" type="matrix" values="0 0 0 0 1  0 0 0 0 0.82  0 0 0 0 0.84  2.6 0 0 0 -1.2" result="lt"/>
 <feColorMatrix in="SourceGraphic" type="matrix" values="0 0 0 0 0  0 0 0 0 0  0 0 0 0 0  0.9 -0.9 0 0 -0.25" result="m2"/>
 <feComposite in="lt" in2="m2" operator="in" result="ltm"/>
 <feMerge><feMergeNode in="SourceGraphic"/><feMergeNode in="dots"/><feMergeNode in="ltm"/></feMerge>
 <feGaussianBlur stdDeviation="0.35"/>
</filter>
<filter id="tex2" x="0" y="0" width="100%" height="100%" color-interpolation-filters="sRGB">
 <feTurbulence type="fractalNoise" baseFrequency="0.7" numOctaves="2" seed="7" result="n"/>
 <feColorMatrix in="n" type="matrix" values="0 0 0 0 0  0 0 0 0 0  0 0 0 0 0  2.6 0 0 0 -1.1" result="na"/>
 <feColorMatrix in="SourceGraphic" type="matrix" values="0 0 0 0 0.42  0 0 0 0 0.12  0 0 0 0 0.3  0 -1.0 0 0 0.88" result="m"/>
 <feComposite in="m" in2="na" operator="in" result="dots"/>
 <feMerge><feMergeNode in="SourceGraphic"/><feMergeNode in="dots"/></feMerge>
 <feGaussianBlur stdDeviation="0.35"/>
</filter>
<filter id="texL" x="0" y="0" width="100%" height="100%" color-interpolation-filters="sRGB">
 <feTurbulence type="fractalNoise" baseFrequency="0.62" numOctaves="2" seed="5" result="n"/>
 <feColorMatrix in="n" type="matrix" values="0 0 0 0 0  0 0 0 0 0  0 0 0 0 0  2.6 0 0 0 -1.05" result="na"/>
 <feColorMatrix in="SourceGraphic" type="matrix" values="0 0 0 0 0.5  0 0 0 0 0.08  0 0 0 0 0.2  0 -1.3 0 0 0.9" result="m"/>
 <feComposite in="m" in2="na" operator="in" result="dots"/>
 <feTurbulence type="fractalNoise" baseFrequency="0.55" numOctaves="2" seed="11" result="n2"/>
 <feColorMatrix in="n2" type="matrix" values="0 0 0 0 1  0 0 0 0 0.8  0 0 0 0 0.82  2.6 0 0 0 -1.15" result="lt"/>
 <feColorMatrix in="SourceGraphic" type="matrix" values="0 0 0 0 0  0 0 0 0 0  0 0 0 0 0  1.3 -1.3 0 0 -0.3" result="m2"/>
 <feComposite in="lt" in2="m2" operator="in" result="ltm"/>
 <feMerge><feMergeNode in="SourceGraphic"/><feMergeNode in="dots"/><feMergeNode in="ltm"/></feMerge>
 <feGaussianBlur stdDeviation="0.35"/>
</filter>
<radialGradient id="skc" cx="0.5" cy="0.5" r="0.5"><stop offset="0" stop-color="#d8c2c8"/><stop offset="0.6" stop-color="#dab4be" stop-opacity="0.7"/><stop offset="1" stop-color="#e2a2ae" stop-opacity="0"/></radialGradient>
</defs>
<!-- 1: Intestine WT -->
<g transform="translate(279.8,228.8)"><g clip-path="url(#cp0)"><g filter="url(#tex2)"><g filter="url(#bl)">
<rect x="-2" y="-2" width="80" height="74" fill="#eee6d6"/>
<path d="M50,-2 L78,-2 L78,54 C74,50 71,46 68,41 C64,33 61,26 58,16 C56,9 53,4 50,-2 Z" fill="#cfc3c4"/>
<path d="M-2,32 C8,44 20,58 32,72 L-2,72 Z" fill="#d4ccc2"/>
<path d="M-2,6 C14,26 32,48 50,72 L32,72 C20,58 8,44 -2,32 Z" fill="#d690a0"/>
<path d="M-2,-2 L33,-2 C31,3 29.5,7 29,12.6 C31,14 33,14 35,14.1 C39,15 41,16 42.8,17.2 C45,19 47,20 47.4,22.6 C48.5,25 49,26 49,28 C49.5,30 50,32 50.5,33.4 C52,35 54,36 55.1,38 C57,40 58,41 59,43.4 C60,45 61,47 61.3,49.5 C63,51 64,52 65.9,54.1 C68,56 69,57 70.5,58.7 C72,61 73,63 73.6,64.9 L74,72 L50,72 C32,48 14,26 -2,6 Z" fill="#a6607e"/>
<path d="M2,14 C16,32 30,50 42,68" stroke="#f2c8d0" stroke-width="1.3" fill="none" opacity="0.8"/>
<path d="M-2,22 C10,36 22,52 34,68" stroke="#e6b0bc" stroke-width="1" fill="none" opacity="0.7"/>
<path d="M12,6 C22,18 32,32 44,48" stroke="#9a5474" stroke-width="3" fill="none" opacity="0.45"/>
<path d="M24,22 C28,28 32,34 36,38" stroke="#d8a4b8" stroke-width="1.5" fill="none" opacity="0.7"/>
<path d="M32,40 C36,44 40,47 44,49" stroke="#ecd0d8" stroke-width="1.2" fill="none" opacity="0.8"/>
<path d="M20,12 C22,16 24,20 26,22" stroke="#c01840" stroke-width="1.2" fill="none" opacity="0.6"/>
</g></g></g></g>
<!-- 2: Liver WT -->
<g transform="translate(361.4,228.8)"><g clip-path="url(#cp0)"><g filter="url(#texL)"><g filter="url(#bl)">
<rect x="-2" y="-2" width="80" height="74" fill="#d44e68"/>
<ellipse cx="14.4" cy="11.4" rx="7.2" ry="3" fill="#f2dcc6" transform="rotate(-6 14.4 11.4)"/>
<ellipse cx="13.8" cy="11.4" rx="2.8" ry="1.4" fill="#c86a66"/>
<ellipse cx="56" cy="0.5" rx="4.5" ry="2.8" fill="#f0e0d0"/>
<path d="M38.5,28 C38.5,22 46,21 50,25 C52,28 52,32 53,36 C56,42 60,50 64.5,58.5 C63,60 61,59 59.5,56.5 C55,49 49,44 44,40 C40,37 38.5,33 38.5,28 Z" fill="#f4e6cc"/>
<ellipse cx="44.4" cy="28.5" rx="3.8" ry="3.4" fill="#d86872"/>
<path d="M38,30 C40,38 47,43 53,48" stroke="#8e3050" stroke-width="1" fill="none"/>
<ellipse cx="8.2" cy="47.2" rx="2.4" ry="4" fill="#f0dcc6" transform="rotate(20 8.2 47.2)"/>
<circle cx="30" cy="60" r="6" fill="#d04a66" opacity="0.6"/>
<circle cx="60" cy="12" r="7" fill="#df6078" opacity="0.5"/>
</g></g></g></g>
<!-- 3: Skin WT -->
<g transform="translate(441.8,228.8)"><g clip-path="url(#cp0)"><g filter="url(#tex2)"><g filter="url(#bl)">
<rect x="-2" y="-2" width="80" height="74" fill="#dcd5c9"/>
<path d="M-2,44 C-1,38 0,34 1.3,30 C3,25 5,20 8,16 L13.6,17.2 C11,22 8,28 6,34 C4,38 3,42 2,46 Z" fill="#c23a56"/>
<path d="M-2,46 C0,42 1,41 1.3,40.3 C3,36 5,32 7.4,28 C9,24 11,20 13.6,17.2 C16,13 18,10 21.3,8 C24,6 26,5 29,4.9 C32,4.5 34,5 36.7,5.7 C39,7 41,8 42.8,9.5 C46,12 48,14 50.5,15.7 C54,18 56,20 58.2,21.8 C61,25 63,28 64.4,31 C67,36 69,40 70.5,43.4 C72,47 73,50 74.4,54.1 C75,57 76,59 78,62 L78,72 L-2,72 Z" fill="#a06c8c"/>
<path fill-rule="nonzero" d="M0.5,48 C2,42 4,38 9,29 C12,24 14,20 17,16 C20,12 24,9 29,8.2 C33,8 36,8.5 40,11 C44,14 48,17 52,20.5 C56,24 58,28 60,32 C62,38 64,44 66,50 C67,56 68,62 69,72 L0.5,72 Z" fill="#da98a6"/>
<ellipse cx="42" cy="54" rx="16" ry="18" fill="url(#skc)"/>
<path d="M40,12 C44,18 46,24 47,32" stroke="#b07898" stroke-width="2.5" fill="none" opacity="0.7"/>
<path d="M56,26 C54,34 56,42 60,50" stroke="#a87094" stroke-width="2" fill="none" opacity="0.6"/>
<ellipse cx="62.8" cy="4.5" rx="9.5" ry="7" fill="#581a40"/>
<ellipse cx="62" cy="4" rx="5.5" ry="4" fill="#742a54"/>
<path d="M66,12.6 C70,15 73,18 75.5,22" stroke="#d04e62" stroke-width="2.2" fill="none"/>
</g></g></g></g>
<!-- 4: Intestine DNMAML -->
<g transform="translate(279.8,303.8)"><g clip-path="url(#cp2)"><g filter="url(#tex2)"><g filter="url(#bl)">
<rect x="-2" y="-2" width="80" height="75" fill="#c87282"/>
<path d="M-2,39.7 C2,46 5,52 7.4,56.7 C10,62 13,67 15.1,72.5 L-2,72.5 Z" fill="#e8e4c4"/>
<path d="M-2,20 C3,28 6,35 9,41.3 C13,49 17,56 21.3,62.8 C23,66 25,69 26,72.5 L15.1,72.5 C13,67 10,62 7.4,56.7 C5,52 2,46 -2,39.7 Z" fill="#dc9aa2"/>
<path d="M-2,-2 L8,-2 C11,6 14,14 17,21.3 C20,29 23,36 26,44.4 C29,52 32,61 36,72.5 L26,72.5 C25,69 23,66 21.3,62.8 C17,56 13,49 9,41.3 C6,35 3,28 -2,20 Z" fill="#805a8e"/>
<path d="M8,-2 L22,-2 C18,4 16,8 14,10 Z" fill="#9a6a98" opacity="0.8"/>
<g stroke="#f4dce0" stroke-width="1.4" fill="none" opacity="0.85" stroke-linecap="round">
<path d="M12,6 C18,3 24,1 30,-1"/>
<path d="M15,14 C22,10 28,6 34,1"/>
<path d="M18,22 C25,17 31,12 37,6"/>
<path d="M21,30 C28,24 34,18 40,12"/>
<path d="M24,38 C30,32 36,26 42,19"/>
<path d="M27,46 C33,40 38,34 44,27"/>
<path d="M30,54 C35,48 40,42 46,35"/>
<path d="M33,62 C38,56 43,50 48,43"/>
<path d="M36,70 C41,63 45,57 50,51"/>
<path d="M30,-1 C36,8 42,18 46,28 C48,36 50,44 52,52"/>
<path d="M44,-1 C48,6 52,12 54,20 C56,30 58,40 60,50 C61,58 62,64 64,72"/>
<path d="M52,8 C58,10 62,8 68,6"/>
<path d="M54,20 C60,22 66,20 76,18"/>
<path d="M56,32 C62,32 68,30 76,30"/>
<path d="M58,42 C64,44 70,42 76,42"/>
<path d="M60,52 C66,54 70,54 76,54"/>
<path d="M62,62 C66,62 70,64 76,64"/>
<path d="M66,6 C68,14 68,24 70,32 C71,42 71,52 72,62"/>
</g>
<ellipse cx="40.5" cy="60" rx="5" ry="2.4" fill="#f6eedc" transform="rotate(-15 40.5 60)"/>
<path d="M62.8,-2 L78,-2 L78,12 C72,10 66,6 62.8,-2 Z" fill="#f2ead4"/>
</g></g></g></g>
<!-- 5: Liver DNMAML -->
<g transform="translate(361.3,304.0)"><g clip-path="url(#cp1)"><g filter="url(#texL)"><g filter="url(#bl)">
<rect x="-2" y="-2" width="80" height="74" fill="#d84e6c"/>
<path d="M64,-2 L78,-2 L78,14 C74,8 69,3 64,-2 Z" fill="#e8d8c8"/>
<ellipse cx="11.6" cy="8.5" rx="5.5" ry="3.6" fill="#f0e2d2" transform="rotate(-35 11.6 8.5)"/>
<path d="M8.5,10 L2.5,15.8 L4.2,16 L11,11.5 Z" fill="#f0e2d2"/>
<ellipse cx="53" cy="14.5" rx="3.2" ry="4.8" fill="#cc1a44"/>
<ellipse cx="63" cy="54" rx="2.6" ry="5" fill="#cc1c46"/>
<ellipse cx="20.5" cy="52.3" rx="5.5" ry="3.8" fill="#f0e6da" transform="rotate(-40 20.5 52.3)"/>
<ellipse cx="20.5" cy="52.3" rx="2.5" ry="1.5" fill="#d8c8c0" transform="rotate(-40 20.5 52.3)"/>
<ellipse cx="62.4" cy="70" rx="4" ry="3.5" fill="#f0e2d8"/>
<circle cx="50" cy="40" r="10" fill="#e26a86" opacity="0.4"/>
</g></g></g></g>
<!-- 6: Skin DNMAML -->
<g transform="translate(441.8,304.0)"><g clip-path="url(#cp1)"><g filter="url(#tex2)"><g filter="url(#bl)">
<rect x="-2" y="-2" width="80" height="74" fill="#d6d2c3"/>
<path d="M65.9,-2 L78,-2 L78,72 L44.4,72 C50,64 54,60 56.7,56.2 C62,48 66,42 67.4,36.2 C69,28 71,20 70.5,13 C69,8 67,4 65.9,-2 Z" fill="#e0c9c2"/>
<path d="M-2,47.5 C2,46 5,45 7.4,43.9 C9,40 10,35 12,31.5 C14,30 17,29.5 19.7,30 C22,30.5 25,31.5 27.4,31.5 C29,31 30,30 30.5,28.5 C33,26 35,25 36.7,23.9 C38,21 39,19 39.7,16.2 C40.5,13 41,11 41.3,8.5 C42,5 43,2 44.4,-2 L65.9,-2 C67,4 69,8 70.5,13 C71,20 69,28 67.4,36.2 C66,42 62,48 56.7,56.2 C54,60 50,64 44.4,72 L-2,72 Z" fill="#e07a8a"/>
<path d="M-2,47.5 C2,46 5,45 7.4,43.9 C9,40 10,35 12,31.5 C14,30 17,29.5 19.7,30 C22,30.5 25,31.5 27.4,31.5 C29,31 30,30 30.5,28.5 C33,26 35,25 36.7,23.9 C38,21 39,19 39.7,16.2 C40.5,13 41,11 41.3,8.5 C42,5 43,2 44.4,-2" stroke="#8a4868" stroke-width="1.7" fill="none"/>
<path d="M12,34 C15,44 18,52 21,62" stroke="#a05a7c" stroke-width="1.4" fill="none"/>
<path d="M38,34 C40,40 42,44 44.4,47" stroke="#8a4a70" stroke-width="2.2" fill="none"/>
<path d="M30,34 C32,42 33,48 34,54" stroke="#b06a88" stroke-width="1.4" fill="none"/>
<path d="M58,0 C60,6 62,12 62,18" stroke="#9a5078" stroke-width="1.6" fill="none"/>
<path d="M66,40 C60,50 54,58 48,66" stroke="#f0d8d0" stroke-width="3" fill="none" opacity="0.7"/>
</g></g></g></g>

<text x="1.60" y="397.00" font-size="21" font-weight="bold" fill="#000">C</text>
<text x="87.00" y="402.60" font-size="13.3" fill="#000">C57BL/6</text>
<path d="M143.1 399.4H154.6M151 396.6L154.8 399.4L151 402.2" fill="none" stroke="#000" stroke-width="1.1"/>
<text x="159.20" y="402.60" font-size="13.3" fill="#000">BALB/c</text>
<line x1="55.70" y1="419.00" x2="55.70" y2="548.50" stroke="#000" stroke-width="1.3" stroke-linecap="butt"/>
<line x1="52.40" y1="545.00" x2="261.10" y2="545.00" stroke="#000" stroke-width="1.6" stroke-linecap="butt"/>
<line x1="52.40" y1="545.00" x2="55.70" y2="545.00" stroke="#000" stroke-width="1.3" stroke-linecap="butt"/>
<text x="47.30" y="551.20" font-size="13.3" text-anchor="end" fill="#000">0</text>
<line x1="52.40" y1="519.80" x2="55.70" y2="519.80" stroke="#000" stroke-width="1.3" stroke-linecap="butt"/>
<text x="47.30" y="526.00" font-size="13.3" text-anchor="end" fill="#000">20</text>
<line x1="52.40" y1="494.60" x2="55.70" y2="494.60" stroke="#000" stroke-width="1.3" stroke-linecap="butt"/>
<text x="47.30" y="500.80" font-size="13.3" text-anchor="end" fill="#000">40</text>
<line x1="52.40" y1="469.40" x2="55.70" y2="469.40" stroke="#000" stroke-width="1.3" stroke-linecap="butt"/>
<text x="47.30" y="475.60" font-size="13.3" text-anchor="end" fill="#000">60</text>
<line x1="52.40" y1="444.20" x2="55.70" y2="444.20" stroke="#000" stroke-width="1.3" stroke-linecap="butt"/>
<text x="47.30" y="450.40" font-size="13.3" text-anchor="end" fill="#000">80</text>
<line x1="52.40" y1="419.00" x2="55.70" y2="419.00" stroke="#000" stroke-width="1.3" stroke-linecap="butt"/>
<text x="47.30" y="425.20" font-size="13.3" text-anchor="end" fill="#000">100</text>
<line x1="55.70" y1="545.00" x2="55.70" y2="548.50" stroke="#000" stroke-width="1.3" stroke-linecap="butt"/>
<text x="55.60" y="566.60" font-size="13.3" text-anchor="middle" fill="#000">0</text>
<line x1="84.90" y1="545.00" x2="84.90" y2="548.50" stroke="#000" stroke-width="1.3" stroke-linecap="butt"/>
<text x="84.80" y="566.60" font-size="13.3" text-anchor="middle" fill="#000">10</text>
<line x1="114.10" y1="545.00" x2="114.10" y2="548.50" stroke="#000" stroke-width="1.3" stroke-linecap="butt"/>
<text x="114.00" y="566.60" font-size="13.3" text-anchor="middle" fill="#000">20</text>
<line x1="143.30" y1="545.00" x2="143.30" y2="548.50" stroke="#000" stroke-width="1.3" stroke-linecap="butt"/>
<text x="143.20" y="566.60" font-size="13.3" text-anchor="middle" fill="#000">30</text>
<line x1="172.50" y1="545.00" x2="172.50" y2="548.50" stroke="#000" stroke-width="1.3" stroke-linecap="butt"/>
<text x="172.40" y="566.60" font-size="13.3" text-anchor="middle" fill="#000">40</text>
<line x1="201.70" y1="545.00" x2="201.70" y2="548.50" stroke="#000" stroke-width="1.3" stroke-linecap="butt"/>
<text x="201.60" y="566.60" font-size="13.3" text-anchor="middle" fill="#000">50</text>
<line x1="230.90" y1="545.00" x2="230.90" y2="548.50" stroke="#000" stroke-width="1.3" stroke-linecap="butt"/>
<text x="230.80" y="566.60" font-size="13.3" text-anchor="middle" fill="#000">60</text>
<line x1="260.10" y1="545.00" x2="260.10" y2="548.50" stroke="#000" stroke-width="1.3" stroke-linecap="butt"/>
<text x="252.70" y="566.60" font-size="13.3" fill="#000">7</text>
<text x="23.10" y="475.20" font-size="13.3" text-anchor="middle" transform="rotate(-90 23.1 475.2)" fill="#000">Survival (%)</text>
<text x="157.30" y="579.40" font-size="13.3" text-anchor="middle" fill="#000">Days after transplantation</text>
<polyline points="55.70,419.00 67.38,419.00 72.64,431.60 73.80,444.20 179.22,444.20 183.01,456.80 197.03,456.80 200.53,469.40 218.93,469.40 224.77,494.60 230.32,507.20 255.14,507.20" fill="none" stroke="#000" stroke-width="1.8" stroke-linejoin="miter"/>
<polyline points="55.70,419.00 68.84,419.00 73.22,444.20 77.60,494.60 84.90,494.60 90.74,507.20 96.58,519.80 99.50,532.40 119.94,532.40 123.74,545.00 131.62,545.00" fill="none" stroke="#000" stroke-width="1.8" stroke-linejoin="miter"/>
<polyline points="55.70,419.00 79.06,419.00 83.73,437.90 255.14,437.90" fill="none" stroke="#000" stroke-width="1.8" stroke-linejoin="miter"/>
<path d="M82.88 437.90L85.78 434.80L88.68 437.90L85.78 441.00Z" fill="#000"/>
<path d="M88.69 437.90L91.59 434.80L94.49 437.90L91.59 441.00Z" fill="#000"/>
<path d="M94.50 437.90L97.40 434.80L100.30 437.90L97.40 441.00Z" fill="#000"/>
<path d="M100.31 437.90L103.21 434.80L106.11 437.90L103.21 441.00Z" fill="#000"/>
<path d="M106.12 437.90L109.02 434.80L111.92 437.90L109.02 441.00Z" fill="#000"/>
<path d="M111.93 437.90L114.83 434.80L117.73 437.90L114.83 441.00Z" fill="#000"/>
<path d="M117.74 437.90L120.64 434.80L123.54 437.90L120.64 441.00Z" fill="#000"/>
<path d="M123.55 437.90L126.45 434.80L129.35 437.90L126.45 441.00Z" fill="#000"/>
<path d="M129.36 437.90L132.26 434.80L135.16 437.90L132.26 441.00Z" fill="#000"/>
<path d="M135.17 437.90L138.07 434.80L140.97 437.90L138.07 441.00Z" fill="#000"/>
<path d="M140.98 437.90L143.88 434.80L146.78 437.90L143.88 441.00Z" fill="#000"/>
<path d="M146.79 437.90L149.69 434.80L152.59 437.90L149.69 441.00Z" fill="#000"/>
<path d="M152.61 437.90L155.51 434.80L158.41 437.90L155.51 441.00Z" fill="#000"/>
<path d="M158.42 437.90L161.32 434.80L164.22 437.90L161.32 441.00Z" fill="#000"/>
<path d="M164.23 437.90L167.13 434.80L170.03 437.90L167.13 441.00Z" fill="#000"/>
<path d="M170.04 437.90L172.94 434.80L175.84 437.90L172.94 441.00Z" fill="#000"/>
<path d="M175.85 437.90L178.75 434.80L181.65 437.90L178.75 441.00Z" fill="#000"/>
<path d="M181.66 437.90L184.56 434.80L187.46 437.90L184.56 441.00Z" fill="#000"/>
<path d="M187.47 437.90L190.37 434.80L193.27 437.90L190.37 441.00Z" fill="#000"/>
<path d="M193.28 437.90L196.18 434.80L199.08 437.90L196.18 441.00Z" fill="#000"/>
<path d="M199.09 437.90L201.99 434.80L204.89 437.90L201.99 441.00Z" fill="#000"/>
<path d="M204.90 437.90L207.80 434.80L210.70 437.90L207.80 441.00Z" fill="#000"/>
<path d="M210.71 437.90L213.61 434.80L216.51 437.90L213.61 441.00Z" fill="#000"/>
<path d="M216.52 437.90L219.42 434.80L222.32 437.90L219.42 441.00Z" fill="#000"/>
<path d="M222.34 437.90L225.24 434.80L228.14 437.90L225.24 441.00Z" fill="#000"/>
<path d="M228.15 437.90L231.05 434.80L233.95 437.90L231.05 441.00Z" fill="#000"/>
<path d="M233.96 437.90L236.86 434.80L239.76 437.90L236.86 441.00Z" fill="#000"/>
<path d="M239.77 437.90L242.67 434.80L245.57 437.90L242.67 441.00Z" fill="#000"/>
<path d="M245.58 437.90L248.48 434.80L251.38 437.90L248.48 441.00Z" fill="#000"/>
<path d="M251.39 437.90L254.29 434.80L257.19 437.90L254.29 441.00Z" fill="#000"/>
<polyline points="55.70,419.00 66.50,419.00 72.05,482.00 77.02,545.00 84.61,545.00" fill="none" stroke="#000" stroke-width="2.4" stroke-linejoin="miter"/>
<path d="M51.32 417.8H253.4L257.8 423.3H51.32Z" fill="#000"/>
<rect x="51.32" y="415.2" width="21.61" height="8.1" fill="#000"/>
<path d="M250.10 421L252.50 415.0H254.30L256.70 421Z" fill="#000"/>
<path d="M244.20 421L246.60 415.0H248.40L250.80 421Z" fill="#000"/>
<path d="M238.30 421L240.70 415.0H242.50L244.90 421Z" fill="#000"/>
<path d="M232.40 421L234.80 415.0H236.60L239.00 421Z" fill="#000"/>
<path d="M226.50 421L228.90 415.0H230.70L233.10 421Z" fill="#000"/>
<path d="M220.60 421L223.00 415.0H224.80L227.20 421Z" fill="#000"/>
<path d="M214.70 421L217.10 415.0H218.90L221.30 421Z" fill="#000"/>
<path d="M208.80 421L211.20 415.0H213.00L215.40 421Z" fill="#000"/>
<path d="M202.90 421L205.30 415.0H207.10L209.50 421Z" fill="#000"/>
<path d="M197.00 421L199.40 415.0H201.20L203.60 421Z" fill="#000"/>
<path d="M191.10 421L193.50 415.0H195.30L197.70 421Z" fill="#000"/>
<path d="M185.20 421L187.60 415.0H189.40L191.80 421Z" fill="#000"/>
<path d="M179.30 421L181.70 415.0H183.50L185.90 421Z" fill="#000"/>
<path d="M173.40 421L175.80 415.0H177.60L180.00 421Z" fill="#000"/>
<path d="M167.50 421L169.90 415.0H171.70L174.10 421Z" fill="#000"/>
<path d="M161.60 421L164.00 415.0H165.80L168.20 421Z" fill="#000"/>
<path d="M155.70 421L158.10 415.0H159.90L162.30 421Z" fill="#000"/>
<path d="M149.80 421L152.20 415.0H154.00L156.40 421Z" fill="#000"/>
<path d="M143.90 421L146.30 415.0H148.10L150.50 421Z" fill="#000"/>
<path d="M138.00 421L140.40 415.0H142.20L144.60 421Z" fill="#000"/>
<path d="M132.10 421L134.50 415.0H136.30L138.70 421Z" fill="#000"/>
<path d="M126.20 421L128.60 415.0H130.40L132.80 421Z" fill="#000"/>
<path d="M120.30 421L122.70 415.0H124.50L126.90 421Z" fill="#000"/>
<path d="M114.40 421L116.80 415.0H118.60L121.00 421Z" fill="#000"/>
<path d="M108.50 421L110.90 415.0H112.70L115.10 421Z" fill="#000"/>
<path d="M102.60 421L105.00 415.0H106.80L109.20 421Z" fill="#000"/>
<path d="M96.70 421L99.10 415.0H100.90L103.30 421Z" fill="#000"/>
<path d="M90.80 421L93.20 415.0H95.00L97.40 421Z" fill="#000"/>
<path d="M84.90 421L87.30 415.0H89.10L91.50 421Z" fill="#000"/>
<path d="M79.00 421L81.40 415.0H83.20L85.60 421Z" fill="#000"/>
<path d="M73.10 421L75.50 415.0H77.30L79.70 421Z" fill="#000"/>
<rect x="68.34" y="478.00" width="8.00" height="8.00" fill="#000"/>
<rect x="74.29" y="541.40" width="7.20" height="7.20" fill="#000"/>
<rect x="81.01" y="541.40" width="7.20" height="7.20" fill="#000"/>
<rect x="70.02" y="441.00" width="6.40" height="6.40" fill="#fff" stroke="#000" stroke-width="1.3"/>
<rect x="74.69" y="491.40" width="6.40" height="6.40" fill="#fff" stroke="#000" stroke-width="1.3"/>
<rect x="81.41" y="491.40" width="6.40" height="6.40" fill="#fff" stroke="#000" stroke-width="1.3"/>
<rect x="87.54" y="504.00" width="6.40" height="6.40" fill="#fff" stroke="#000" stroke-width="1.3"/>
<rect x="93.38" y="516.60" width="6.40" height="6.40" fill="#fff" stroke="#000" stroke-width="1.3"/>
<rect x="96.88" y="529.20" width="6.40" height="6.40" fill="#fff" stroke="#000" stroke-width="1.3"/>
<rect x="103.31" y="529.20" width="6.40" height="6.40" fill="#fff" stroke="#000" stroke-width="1.3"/>
<rect x="109.73" y="529.20" width="6.40" height="6.40" fill="#fff" stroke="#000" stroke-width="1.3"/>
<rect x="116.16" y="529.20" width="6.40" height="6.40" fill="#fff" stroke="#000" stroke-width="1.3"/>
<rect x="121.41" y="541.80" width="6.40" height="6.40" fill="#fff" stroke="#000" stroke-width="1.3"/>
<rect x="128.42" y="541.80" width="6.40" height="6.40" fill="#fff" stroke="#000" stroke-width="1.3"/>
<path d="M69.64 434.15L72.64 428.75L75.64 434.15Z" fill="#fff" stroke="#000" stroke-width="1.3" stroke-linejoin="miter"/>
<path d="M70.22 439.82L73.22 434.42L76.22 439.82Z" fill="#fff" stroke="#000" stroke-width="1.3" stroke-linejoin="miter"/>
<path d="M75.96 446.83L79.06 441.25L82.16 446.83Z" fill="#fff" stroke="#000" stroke-width="1.3" stroke-linejoin="miter"/>
<path d="M81.80 446.83L84.90 441.25L88.00 446.83Z" fill="#fff" stroke="#000" stroke-width="1.3" stroke-linejoin="miter"/>
<path d="M87.64 446.83L90.74 441.25L93.84 446.83Z" fill="#fff" stroke="#000" stroke-width="1.3" stroke-linejoin="miter"/>
<path d="M93.48 446.83L96.58 441.25L99.68 446.83Z" fill="#fff" stroke="#000" stroke-width="1.3" stroke-linejoin="miter"/>
<path d="M99.32 446.83L102.42 441.25L105.52 446.83Z" fill="#fff" stroke="#000" stroke-width="1.3" stroke-linejoin="miter"/>
<path d="M105.16 446.83L108.26 441.25L111.36 446.83Z" fill="#fff" stroke="#000" stroke-width="1.3" stroke-linejoin="miter"/>
<path d="M111.00 446.83L114.10 441.25L117.20 446.83Z" fill="#fff" stroke="#000" stroke-width="1.3" stroke-linejoin="miter"/>
<path d="M116.84 446.83L119.94 441.25L123.04 446.83Z" fill="#fff" stroke="#000" stroke-width="1.3" stroke-linejoin="miter"/>
<path d="M122.68 446.83L125.78 441.25L128.88 446.83Z" fill="#fff" stroke="#000" stroke-width="1.3" stroke-linejoin="miter"/>
<path d="M128.52 446.83L131.62 441.25L134.72 446.83Z" fill="#fff" stroke="#000" stroke-width="1.3" stroke-linejoin="miter"/>
<path d="M134.36 446.83L137.46 441.25L140.56 446.83Z" fill="#fff" stroke="#000" stroke-width="1.3" stroke-linejoin="miter"/>
<path d="M140.20 446.83L143.30 441.25L146.40 446.83Z" fill="#fff" stroke="#000" stroke-width="1.3" stroke-linejoin="miter"/>
<path d="M146.04 446.83L149.14 441.25L152.24 446.83Z" fill="#fff" stroke="#000" stroke-width="1.3" stroke-linejoin="miter"/>
<path d="M151.88 446.83L154.98 441.25L158.08 446.83Z" fill="#fff" stroke="#000" stroke-width="1.3" stroke-linejoin="miter"/>
<path d="M157.72 446.83L160.82 441.25L163.92 446.83Z" fill="#fff" stroke="#000" stroke-width="1.3" stroke-linejoin="miter"/>
<path d="M163.56 446.83L166.66 441.25L169.76 446.83Z" fill="#fff" stroke="#000" stroke-width="1.3" stroke-linejoin="miter"/>
<path d="M169.40 446.83L172.50 441.25L175.60 446.83Z" fill="#fff" stroke="#000" stroke-width="1.3" stroke-linejoin="miter"/>
<path d="M175.24 446.83L178.34 441.25L181.44 446.83Z" fill="#fff" stroke="#000" stroke-width="1.3" stroke-linejoin="miter"/>
<path d="M179.91 459.44L183.01 453.86L186.11 459.44Z" fill="#fff" stroke="#000" stroke-width="1.3" stroke-linejoin="miter"/>
<path d="M185.46 459.44L188.56 453.86L191.66 459.44Z" fill="#fff" stroke="#000" stroke-width="1.3" stroke-linejoin="miter"/>
<path d="M191.59 459.44L194.69 453.86L197.79 459.44Z" fill="#fff" stroke="#000" stroke-width="1.3" stroke-linejoin="miter"/>
<path d="M197.43 472.03L200.53 466.45L203.63 472.03Z" fill="#fff" stroke="#000" stroke-width="1.3" stroke-linejoin="miter"/>
<path d="M203.27 472.03L206.37 466.45L209.47 472.03Z" fill="#fff" stroke="#000" stroke-width="1.3" stroke-linejoin="miter"/>
<path d="M209.40 472.03L212.50 466.45L215.60 472.03Z" fill="#fff" stroke="#000" stroke-width="1.3" stroke-linejoin="miter"/>
<path d="M215.83 472.03L218.93 466.45L222.03 472.03Z" fill="#fff" stroke="#000" stroke-width="1.3" stroke-linejoin="miter"/>
<path d="M221.67 497.24L224.77 491.66L227.87 497.24Z" fill="#fff" stroke="#000" stroke-width="1.3" stroke-linejoin="miter"/>
<path d="M227.51 509.83L230.61 504.25L233.71 509.83Z" fill="#fff" stroke="#000" stroke-width="1.3" stroke-linejoin="miter"/>
<path d="M233.35 509.83L236.45 504.25L239.55 509.83Z" fill="#fff" stroke="#000" stroke-width="1.3" stroke-linejoin="miter"/>
<path d="M239.19 509.83L242.29 504.25L245.39 509.83Z" fill="#fff" stroke="#000" stroke-width="1.3" stroke-linejoin="miter"/>
<path d="M245.61 509.83L248.71 504.25L251.81 509.83Z" fill="#fff" stroke="#000" stroke-width="1.3" stroke-linejoin="miter"/>
<path d="M251.74 509.83L254.84 504.25L257.94 509.83Z" fill="#fff" stroke="#000" stroke-width="1.3" stroke-linejoin="miter"/>
<line x1="302.40" y1="422.80" x2="302.40" y2="544.80" stroke="#000" stroke-width="1.4" stroke-linecap="butt"/>
<line x1="302.40" y1="544.80" x2="515.58" y2="544.80" stroke="#000" stroke-width="1.5" stroke-linecap="butt"/>
<line x1="299.10" y1="544.80" x2="302.40" y2="544.80" stroke="#000" stroke-width="1.4" stroke-linecap="butt"/>
<text x="295.60" y="550.60" font-size="13.3" text-anchor="end" fill="#000">0</text>
<line x1="299.10" y1="484.15" x2="302.40" y2="484.15" stroke="#000" stroke-width="1.4" stroke-linecap="butt"/>
<text x="295.60" y="489.95" font-size="13.3" text-anchor="end" fill="#000">5</text>
<line x1="299.10" y1="423.50" x2="302.40" y2="423.50" stroke="#000" stroke-width="1.4" stroke-linecap="butt"/>
<text x="295.60" y="428.50" font-size="13.3" text-anchor="end" fill="#000">10</text>
<line x1="302.40" y1="544.80" x2="302.40" y2="548.10" stroke="#000" stroke-width="1.4" stroke-linecap="butt"/>
<text x="303.30" y="564.40" font-size="13.3" text-anchor="middle" fill="#000">0</text>
<line x1="344.20" y1="544.80" x2="344.20" y2="548.10" stroke="#000" stroke-width="1.4" stroke-linecap="butt"/>
<text x="344.00" y="564.40" font-size="13.3" text-anchor="middle" fill="#000">2</text>
<line x1="386.00" y1="544.80" x2="386.00" y2="548.10" stroke="#000" stroke-width="1.4" stroke-linecap="butt"/>
<text x="385.10" y="564.40" font-size="13.3" text-anchor="middle" fill="#000">4</text>
<line x1="427.80" y1="544.80" x2="427.80" y2="548.10" stroke="#000" stroke-width="1.4" stroke-linecap="butt"/>
<text x="427.10" y="564.40" font-size="13.3" text-anchor="middle" fill="#000">6</text>
<line x1="469.60" y1="544.80" x2="469.60" y2="548.10" stroke="#000" stroke-width="1.4" stroke-linecap="butt"/>
<text x="469.10" y="564.40" font-size="13.3" text-anchor="middle" fill="#000">8</text>
<line x1="511.40" y1="544.80" x2="511.40" y2="548.10" stroke="#000" stroke-width="1.4" stroke-linecap="butt"/>
<text x="512.50" y="564.40" font-size="13.3" text-anchor="middle" fill="#000">10</text>
<text x="282.20" y="486.00" font-size="13.3" text-anchor="middle" transform="rotate(-90 282.2 486)" fill="#000">GVHD score</text>
<text x="408.80" y="578.75" font-size="13.3" text-anchor="middle" fill="#000">Weeks after transplantation</text>
<line x1="323.30" y1="467.65" x2="323.30" y2="493.25" stroke="#000" stroke-width="1.5" stroke-linecap="butt"/>
<line x1="320.30" y1="467.65" x2="326.30" y2="467.65" stroke="#000" stroke-width="1.5" stroke-linecap="butt"/>
<line x1="320.30" y1="493.25" x2="326.30" y2="493.25" stroke="#000" stroke-width="1.5" stroke-linecap="butt"/>
<line x1="323.30" y1="490.21" x2="323.30" y2="518.11" stroke="#000" stroke-width="1.5" stroke-linecap="butt"/>
<line x1="320.30" y1="490.21" x2="326.30" y2="490.21" stroke="#000" stroke-width="1.5" stroke-linecap="butt"/>
<line x1="320.30" y1="518.11" x2="326.30" y2="518.11" stroke="#000" stroke-width="1.5" stroke-linecap="butt"/>
<line x1="323.30" y1="508.41" x2="323.30" y2="520.54" stroke="#000" stroke-width="1.5" stroke-linecap="butt"/>
<line x1="320.30" y1="508.41" x2="326.30" y2="508.41" stroke="#000" stroke-width="1.5" stroke-linecap="butt"/>
<line x1="320.30" y1="520.54" x2="326.30" y2="520.54" stroke="#000" stroke-width="1.5" stroke-linecap="butt"/>
<line x1="344.20" y1="474.69" x2="344.20" y2="492.16" stroke="#000" stroke-width="1.5" stroke-linecap="butt"/>
<line x1="341.20" y1="474.69" x2="347.20" y2="474.69" stroke="#000" stroke-width="1.5" stroke-linecap="butt"/>
<line x1="341.20" y1="492.16" x2="347.20" y2="492.16" stroke="#000" stroke-width="1.5" stroke-linecap="butt"/>
<line x1="344.20" y1="504.77" x2="344.20" y2="532.67" stroke="#000" stroke-width="1.5" stroke-linecap="butt"/>
<line x1="341.20" y1="504.77" x2="347.20" y2="504.77" stroke="#000" stroke-width="1.5" stroke-linecap="butt"/>
<line x1="341.20" y1="532.67" x2="347.20" y2="532.67" stroke="#000" stroke-width="1.5" stroke-linecap="butt"/>
<line x1="344.20" y1="514.47" x2="344.20" y2="536.31" stroke="#000" stroke-width="1.5" stroke-linecap="butt"/>
<line x1="341.20" y1="514.47" x2="347.20" y2="514.47" stroke="#000" stroke-width="1.5" stroke-linecap="butt"/>
<line x1="341.20" y1="536.31" x2="347.20" y2="536.31" stroke="#000" stroke-width="1.5" stroke-linecap="butt"/>
<line x1="365.10" y1="526.60" x2="365.10" y2="542.37" stroke="#000" stroke-width="1.5" stroke-linecap="butt"/>
<line x1="362.10" y1="526.60" x2="368.10" y2="526.60" stroke="#000" stroke-width="1.5" stroke-linecap="butt"/>
<line x1="362.10" y1="542.37" x2="368.10" y2="542.37" stroke="#000" stroke-width="1.5" stroke-linecap="butt"/>
<line x1="365.10" y1="529.03" x2="365.10" y2="544.80" stroke="#000" stroke-width="1.5" stroke-linecap="butt"/>
<line x1="362.10" y1="529.03" x2="368.10" y2="529.03" stroke="#000" stroke-width="1.5" stroke-linecap="butt"/>
<line x1="362.10" y1="544.80" x2="368.10" y2="544.80" stroke="#000" stroke-width="1.5" stroke-linecap="butt"/>
<line x1="386.00" y1="524.66" x2="386.00" y2="544.80" stroke="#000" stroke-width="1.5" stroke-linecap="butt"/>
<line x1="383.00" y1="524.66" x2="389.00" y2="524.66" stroke="#000" stroke-width="1.5" stroke-linecap="butt"/>
<line x1="383.00" y1="544.80" x2="389.00" y2="544.80" stroke="#000" stroke-width="1.5" stroke-linecap="butt"/>
<line x1="386.00" y1="529.03" x2="386.00" y2="541.16" stroke="#000" stroke-width="1.5" stroke-linecap="butt"/>
<line x1="383.00" y1="529.03" x2="389.00" y2="529.03" stroke="#000" stroke-width="1.5" stroke-linecap="butt"/>
<line x1="383.00" y1="541.16" x2="389.00" y2="541.16" stroke="#000" stroke-width="1.5" stroke-linecap="butt"/>
<line x1="406.90" y1="513.26" x2="406.90" y2="544.80" stroke="#000" stroke-width="1.5" stroke-linecap="butt"/>
<line x1="403.90" y1="513.26" x2="409.90" y2="513.26" stroke="#000" stroke-width="1.5" stroke-linecap="butt"/>
<line x1="403.90" y1="544.80" x2="409.90" y2="544.80" stroke="#000" stroke-width="1.5" stroke-linecap="butt"/>
<line x1="406.90" y1="530.24" x2="406.90" y2="542.37" stroke="#000" stroke-width="1.5" stroke-linecap="butt"/>
<line x1="403.90" y1="530.24" x2="409.90" y2="530.24" stroke="#000" stroke-width="1.5" stroke-linecap="butt"/>
<line x1="403.90" y1="542.37" x2="409.90" y2="542.37" stroke="#000" stroke-width="1.5" stroke-linecap="butt"/>
<line x1="427.80" y1="498.71" x2="427.80" y2="546.01" stroke="#000" stroke-width="1.5" stroke-linecap="butt"/>
<line x1="424.80" y1="498.71" x2="430.80" y2="498.71" stroke="#000" stroke-width="1.5" stroke-linecap="butt"/>
<line x1="424.80" y1="546.01" x2="430.80" y2="546.01" stroke="#000" stroke-width="1.5" stroke-linecap="butt"/>
<line x1="427.80" y1="520.90" x2="427.80" y2="542.37" stroke="#000" stroke-width="1.5" stroke-linecap="butt"/>
<line x1="424.80" y1="520.90" x2="430.80" y2="520.90" stroke="#000" stroke-width="1.5" stroke-linecap="butt"/>
<line x1="424.80" y1="542.37" x2="430.80" y2="542.37" stroke="#000" stroke-width="1.5" stroke-linecap="butt"/>
<line x1="448.70" y1="503.56" x2="448.70" y2="543.59" stroke="#000" stroke-width="1.5" stroke-linecap="butt"/>
<line x1="445.70" y1="503.56" x2="451.70" y2="503.56" stroke="#000" stroke-width="1.5" stroke-linecap="butt"/>
<line x1="445.70" y1="543.59" x2="451.70" y2="543.59" stroke="#000" stroke-width="1.5" stroke-linecap="butt"/>
<line x1="448.70" y1="525.39" x2="448.70" y2="542.37" stroke="#000" stroke-width="1.5" stroke-linecap="butt"/>
<line x1="445.70" y1="525.39" x2="451.70" y2="525.39" stroke="#000" stroke-width="1.5" stroke-linecap="butt"/>
<line x1="445.70" y1="542.37" x2="451.70" y2="542.37" stroke="#000" stroke-width="1.5" stroke-linecap="butt"/>
<line x1="469.60" y1="497.86" x2="469.60" y2="547.23" stroke="#000" stroke-width="1.5" stroke-linecap="butt"/>
<line x1="466.60" y1="497.86" x2="472.60" y2="497.86" stroke="#000" stroke-width="1.5" stroke-linecap="butt"/>
<line x1="466.60" y1="547.23" x2="472.60" y2="547.23" stroke="#000" stroke-width="1.5" stroke-linecap="butt"/>
<line x1="469.60" y1="521.15" x2="469.60" y2="543.59" stroke="#000" stroke-width="1.5" stroke-linecap="butt"/>
<line x1="466.60" y1="521.15" x2="472.60" y2="521.15" stroke="#000" stroke-width="1.5" stroke-linecap="butt"/>
<line x1="466.60" y1="543.59" x2="472.60" y2="543.59" stroke="#000" stroke-width="1.5" stroke-linecap="butt"/>
<line x1="469.60" y1="525.39" x2="469.60" y2="541.16" stroke="#000" stroke-width="1.5" stroke-linecap="butt"/>
<line x1="466.60" y1="525.39" x2="472.60" y2="525.39" stroke="#000" stroke-width="1.5" stroke-linecap="butt"/>
<line x1="466.60" y1="541.16" x2="472.60" y2="541.16" stroke="#000" stroke-width="1.5" stroke-linecap="butt"/>
<line x1="490.50" y1="492.64" x2="490.50" y2="547.23" stroke="#000" stroke-width="1.5" stroke-linecap="butt"/>
<line x1="487.50" y1="492.64" x2="493.50" y2="492.64" stroke="#000" stroke-width="1.5" stroke-linecap="butt"/>
<line x1="487.50" y1="547.23" x2="493.50" y2="547.23" stroke="#000" stroke-width="1.5" stroke-linecap="butt"/>
<line x1="490.50" y1="523.57" x2="490.50" y2="541.16" stroke="#000" stroke-width="1.5" stroke-linecap="butt"/>
<line x1="487.50" y1="523.57" x2="493.50" y2="523.57" stroke="#000" stroke-width="1.5" stroke-linecap="butt"/>
<line x1="487.50" y1="541.16" x2="493.50" y2="541.16" stroke="#000" stroke-width="1.5" stroke-linecap="butt"/>
<line x1="511.40" y1="508.41" x2="511.40" y2="543.59" stroke="#000" stroke-width="1.5" stroke-linecap="butt"/>
<line x1="508.40" y1="508.41" x2="514.40" y2="508.41" stroke="#000" stroke-width="1.5" stroke-linecap="butt"/>
<line x1="508.40" y1="543.59" x2="514.40" y2="543.59" stroke="#000" stroke-width="1.5" stroke-linecap="butt"/>
<line x1="511.40" y1="509.62" x2="511.40" y2="542.37" stroke="#000" stroke-width="1.5" stroke-linecap="butt"/>
<line x1="508.40" y1="509.62" x2="514.40" y2="509.62" stroke="#000" stroke-width="1.5" stroke-linecap="butt"/>
<line x1="508.40" y1="542.37" x2="514.40" y2="542.37" stroke="#000" stroke-width="1.5" stroke-linecap="butt"/>
<polyline points="302.40,544.80 323.30,512.41 344.20,524.79 365.10,536.92 386.00,534.61 406.90,525.39 427.80,509.62 448.70,515.45 469.60,512.53 490.50,508.05 511.40,523.21" fill="none" stroke="#000" stroke-width="2.0" stroke-linejoin="miter"/>
<polyline points="302.40,544.80 323.30,503.56 344.20,520.54 365.10,536.92 386.00,539.95 406.90,541.04 427.80,539.34 448.70,533.52 469.60,541.77 490.50,535.58 511.40,536.31" fill="none" stroke="#000" stroke-width="2.6" stroke-linejoin="miter"/>
<polyline points="302.40,544.80 323.30,503.19 344.20,520.18 365.10,536.31 386.00,537.52 406.90,537.04 427.80,532.79 448.70,529.39 469.60,535.58 490.50,527.45 511.40,526.00" fill="none" stroke="#000" stroke-width="2.6" stroke-linejoin="miter"/>
<polyline points="302.40,544.80 323.30,479.30 344.20,519.33 365.10,536.31" fill="none" stroke="#000" stroke-width="2.6" stroke-linejoin="miter"/>
<polyline points="302.40,544.80 323.30,486.21 344.20,483.91 365.10,496.28" fill="none" stroke="#000" stroke-width="2.0" stroke-linejoin="miter"/>
<path d="M299.20 544.80L302.40 541.20L305.60 544.80L302.40 548.40Z" fill="#000"/>
<path d="M320.10 503.56L323.30 499.96L326.50 503.56L323.30 507.16Z" fill="#000"/>
<path d="M341.00 520.54L344.20 516.94L347.40 520.54L344.20 524.14Z" fill="#000"/>
<path d="M361.90 536.92L365.10 533.32L368.30 536.92L365.10 540.52Z" fill="#000"/>
<path d="M382.80 539.95L386.00 536.35L389.20 539.95L386.00 543.55Z" fill="#000"/>
<path d="M403.70 541.04L406.90 537.44L410.10 541.04L406.90 544.64Z" fill="#000"/>
<path d="M424.60 539.34L427.80 535.74L431.00 539.34L427.80 542.94Z" fill="#000"/>
<path d="M445.50 533.52L448.70 529.92L451.90 533.52L448.70 537.12Z" fill="#000"/>
<path d="M466.40 541.77L469.60 538.17L472.80 541.77L469.60 545.37Z" fill="#000"/>
<path d="M487.30 535.58L490.50 531.98L493.70 535.58L490.50 539.18Z" fill="#000"/>
<path d="M508.20 536.31L511.40 532.71L514.60 536.31L511.40 539.91Z" fill="#000"/>
<path d="M319.50 506.42L323.30 499.58L327.10 506.42Z" fill="#000"/>
<path d="M340.40 523.41L344.20 516.57L348.00 523.41Z" fill="#000"/>
<path d="M361.30 539.54L365.10 532.70L368.90 539.54Z" fill="#000"/>
<path d="M382.20 540.75L386.00 533.91L389.80 540.75Z" fill="#000"/>
<path d="M403.10 540.27L406.90 533.43L410.70 540.27Z" fill="#000"/>
<path d="M424.00 536.02L427.80 529.18L431.60 536.02Z" fill="#000"/>
<path d="M444.90 532.62L448.70 525.78L452.50 532.62Z" fill="#000"/>
<path d="M465.80 538.81L469.60 531.97L473.40 538.81Z" fill="#000"/>
<path d="M486.70 530.68L490.50 523.84L494.30 530.68Z" fill="#000"/>
<path d="M507.60 529.23L511.40 522.39L515.20 529.23Z" fill="#000"/>
<path d="M320.10 515.13L323.30 509.37L326.50 515.13Z" fill="#fff" stroke="#000" stroke-width="1.3" stroke-linejoin="miter"/>
<path d="M341.00 527.51L344.20 521.75L347.40 527.51Z" fill="#fff" stroke="#000" stroke-width="1.3" stroke-linejoin="miter"/>
<path d="M361.90 539.64L365.10 533.88L368.30 539.64Z" fill="#fff" stroke="#000" stroke-width="1.3" stroke-linejoin="miter"/>
<path d="M382.80 537.33L386.00 531.57L389.20 537.33Z" fill="#fff" stroke="#000" stroke-width="1.3" stroke-linejoin="miter"/>
<path d="M403.70 528.11L406.90 522.35L410.10 528.11Z" fill="#fff" stroke="#000" stroke-width="1.3" stroke-linejoin="miter"/>
<path d="M424.60 512.34L427.80 506.58L431.00 512.34Z" fill="#fff" stroke="#000" stroke-width="1.3" stroke-linejoin="miter"/>
<path d="M445.50 518.17L448.70 512.41L451.90 518.17Z" fill="#fff" stroke="#000" stroke-width="1.3" stroke-linejoin="miter"/>
<path d="M466.40 515.25L469.60 509.49L472.80 515.25Z" fill="#fff" stroke="#000" stroke-width="1.3" stroke-linejoin="miter"/>
<path d="M487.30 510.77L490.50 505.01L493.70 510.77Z" fill="#fff" stroke="#000" stroke-width="1.3" stroke-linejoin="miter"/>
<path d="M508.20 525.93L511.40 520.17L514.60 525.93Z" fill="#fff" stroke="#000" stroke-width="1.3" stroke-linejoin="miter"/>
<rect x="319.90" y="475.90" width="6.80" height="6.80" fill="#000"/>
<rect x="320.00" y="482.91" width="6.60" height="6.60" fill="#fff" stroke="#000" stroke-width="1.4"/>
<rect x="340.90" y="480.61" width="6.60" height="6.60" fill="#fff" stroke="#000" stroke-width="1.4"/>
<rect x="361.80" y="492.98" width="6.60" height="6.60" fill="#fff" stroke="#000" stroke-width="1.4"/>
<rect x="298.90" y="541.30" width="7.00" height="7.00" fill="#000"/>
<path d="M382.50 545.30L385.50 542.05L388.50 545.30L385.50 548.55Z" fill="#000"/>
<polygon points="322.50,455.90 323.22,457.81 325.26,457.90 323.66,459.18 324.20,461.15 322.50,460.02 320.80,461.15 321.34,459.18 319.74,457.90 321.78,457.81" fill="#000"/>
<polygon points="344.10,462.50 344.82,464.41 346.86,464.50 345.26,465.78 345.80,467.75 344.10,466.62 342.40,467.75 342.94,465.78 341.34,464.50 343.38,464.41" fill="#000"/>
<line x1="359.00" y1="397.30" x2="384.60" y2="397.30" stroke="#000" stroke-width="2.2" stroke-linecap="butt"/>
<path d="M370.15 397.30L373.40 394.05L376.65 397.30L373.40 400.55Z" fill="#000"/>
<text x="389.60" y="403.75" font-size="13.3" fill="#000">TCD BM</text>
<line x1="359.00" y1="412.50" x2="384.60" y2="412.50" stroke="#000" stroke-width="2.2" stroke-linecap="butt"/>
<rect x="369.80" y="408.90" width="7.20" height="7.20" fill="#fff" stroke="#000" stroke-width="1.4"/>
<text x="389.60" y="418.80" font-size="13.3" fill="#000">WT CD4 0.5x10<tspan font-size="9" dy="-5">6</tspan></text>
<line x1="359.00" y1="428.40" x2="384.60" y2="428.40" stroke="#000" stroke-width="2.2" stroke-linecap="butt"/>
<rect x="369.20" y="424.20" width="8.40" height="8.40" fill="#000"/>
<text x="389.60" y="434.60" font-size="13.3" fill="#000">WT CD4 2x10<tspan font-size="9" dy="-5">6</tspan></text>
<line x1="359.00" y1="444.50" x2="384.60" y2="444.50" stroke="#000" stroke-width="2.2" stroke-linecap="butt"/>
<path d="M369.80 447.56L373.40 441.08L377.00 447.56Z" fill="#000"/>
<text x="389.60" y="451.00" font-size="13.3" fill="#000">DNMAML CD4 2x10<tspan font-size="9" dy="-5">6</tspan></text>
<line x1="359.00" y1="461.00" x2="384.60" y2="461.00" stroke="#000" stroke-width="2.2" stroke-linecap="butt"/>
<path d="M369.80 464.06L373.40 457.58L377.00 464.06Z" fill="#fff" stroke="#000" stroke-width="1.3" stroke-linejoin="miter"/>
<text x="389.60" y="467.50" font-size="13.3" fill="#000">DNMAML CD4 5x10<tspan font-size="9" dy="-5">6</tspan></text>
</svg></body></html>
